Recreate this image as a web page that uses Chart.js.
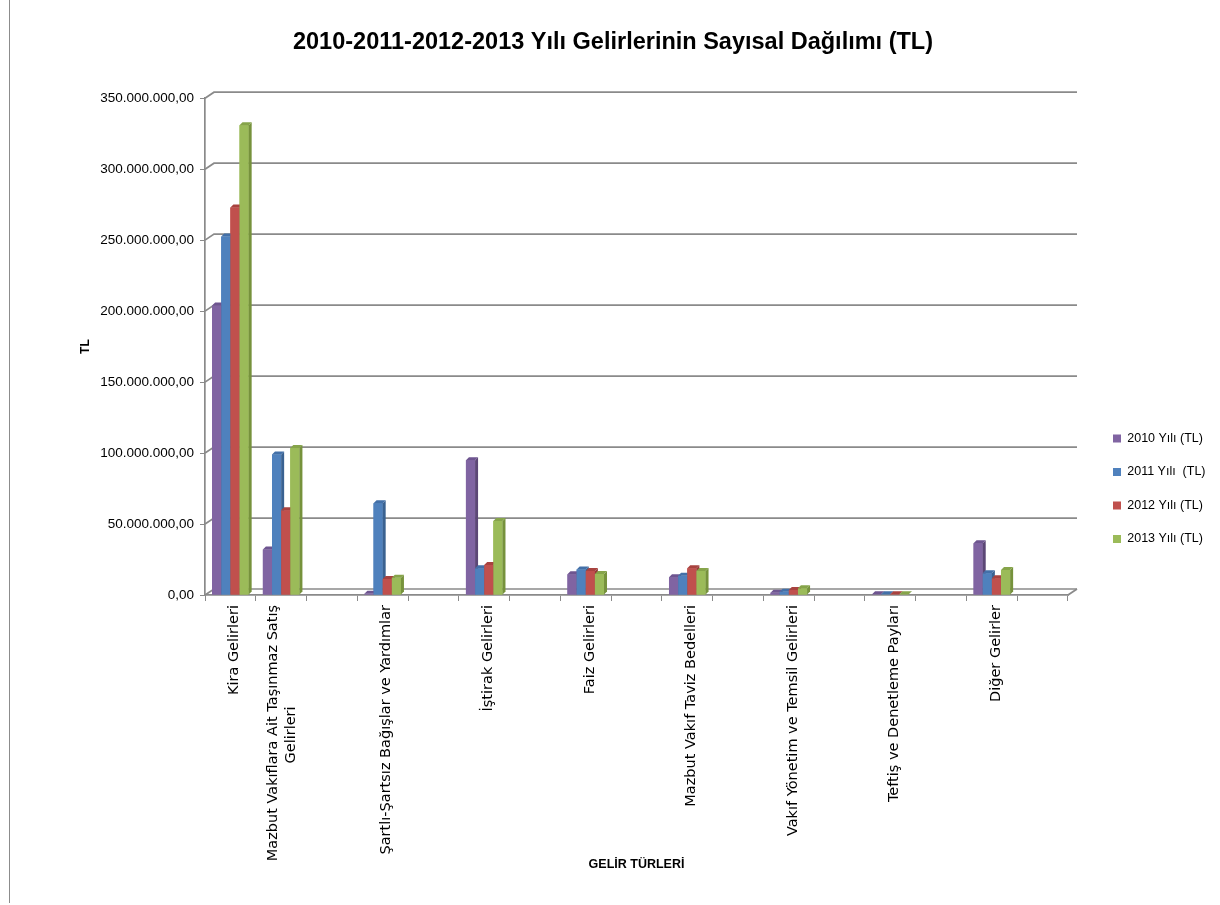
<!DOCTYPE html>
<html><head><meta charset="utf-8">
<script src="https://cdn.jsdelivr.net/npm/chart.js@4.4.0/dist/chart.umd.min.js"></script>
<style>
html,body{margin:0;padding:0;background:#fff;}
#wrap{position:relative;width:1220px;height:905px;overflow:hidden;}
#frame{position:absolute;left:9px;top:0;width:0;height:903px;border-left:1px solid #8c8c8c;}
canvas{position:absolute;left:0;top:0;}
</style></head><body>
<div id="wrap"><canvas id="c" width="1220" height="905"></canvas><div id="frame"></div></div>
<script>
// ---- data ----
const categories = ["Kira Gelirleri","Mazbut Vakıflara Ait Taşınmaz Satış Gelirleri","","Şartlı-Şartsız Bağışlar ve Yardımlar","","İştirak Gelirleri","","Faiz Gelirleri","","Mazbut Vakıf Taviz Bedelleri","","Vakıf Yönetim ve Temsil Gelirleri","","Teftiş ve Denetleme Payları","","Diğer Gelirler",""];
const seriesNames = ["2010 Yılı (TL)","2011 Yılı  (TL)","2012 Yılı (TL)","2013 Yılı (TL)"];
const values2010 = [204000000, 32000000, null, 800000, null, 95000000, null, 14600000, null, 12500000, null, 1600000, null, 500000, null, 36500000, null];
const values2011 = [252500000, 99000000, null, 64700000, null, 18800000, null, 18000000, null, 13600000, null, 2300000, null, 500000, null, 15300000, null];
const values2012 = [273000000, 59700000, null, 11300000, null, 21200000, null, 16900000, null, 18800000, null, 3500000, null, 600000, null, 11800000, null];
const values2013 = [331000000, 103500000, null, 12200000, null, 52200000, null, 14800000, null, 16900000, null, 4700000, null, 600000, null, 17600000, null];
const yTicks = [0, 50000000, 100000000, 150000000, 200000000, 250000000, 300000000, 350000000];
const titleText = "2010-2011-2012-2013 Yılı Gelirlerinin Sayısal Dağılımı (TL)";
const xTitle = "GELİR TÜRLERİ";
const yTitle = "TL";

// ---- styles ----
const frontColors = ["#8064A2","#4F81BD","#C0504D","#9BBB59"];
const sideColors  = ["#5C4776","#3A6291","#953B38","#76923C"];
const topColors   = ["#6E5590","#4370A8","#A8423F","#86A44A"];
const SANS = '"Liberation Sans",Arial,sans-serif';
const GRID = "#8a8a8a";
const DEPTH_X = 9, DEPTH_Y = 6, BAR_D = 3;
const LEGEND_SHIFT = 24;
const LABEL_OFFSET = 4;

function fmtTR(v){
  const n = Math.round(v);
  const s = String(n).replace(/\B(?=(\d{3})+(?!\d))/g, ".");
  return s + ",00";
}
const measureCtx = document.createElement('canvas').getContext('2d');
const X_FONT = {family:'"DejaVu Sans",sans-serif', size:14.5, lineHeight: 1.2};
function wrapLabel(txt){
  if (txt.length <= 36) return txt;
  const cut = txt.lastIndexOf(' ', 36);
  const l1 = txt.slice(0, cut), l2 = txt.slice(cut+1);
  measureCtx.font = X_FONT.size + 'px ' + X_FONT.family;
  const w1 = measureCtx.measureText(l1).width, w2 = measureCtx.measureText(l2).width;
  const sp = measureCtx.measureText(' ').width;
  const n = Math.max(0, Math.round((w1 - w2) / 2 / sp));
  return [l1, l2 + ' '.repeat(n)];
}

const threeD = {
  id: 'threeD',
  afterLayout(chart){
    if (chart.legend){ chart.legend.left += LEGEND_SHIFT; chart.legend.right += LEGEND_SHIFT; }
  },
  beforeDraw(chart){
    // centre multi-line rotated category labels on their tick
    const items = chart.scales.x.getLabelItems();
    if (items._centred) return;
    items.forEach(it => {
      if (Array.isArray(it.label) && it.label.length > 1){
        const lh = it.font.lineHeight;
        it.options.translation[0] -= (it.label.length - 1) * lh / 2 + LABEL_OFFSET - 1;
      }
    });
    items._centred = true;
  },
  beforeDatasetsDraw(chart){
    const {ctx, chartArea:a, scales:{y}} = chart;
    ctx.save();
    ctx.strokeStyle = GRID; ctx.lineWidth = 1.7;
    yTicks.forEach(v => {
      const py = y.getPixelForValue(v);
      ctx.beginPath();
      ctx.moveTo(a.left, py);
      ctx.lineTo(a.left + DEPTH_X, py - DEPTH_Y);
      ctx.lineTo(a.right + DEPTH_X, py - DEPTH_Y);
      ctx.stroke();
    });
    ctx.beginPath();
    ctx.moveTo(a.right, a.bottom);
    ctx.lineTo(a.right + DEPTH_X, a.bottom - DEPTH_Y);
    ctx.stroke();
    ctx.restore();
  },
  afterDatasetsDraw(chart){
    const ctx = chart.ctx;
    const n = chart.data.labels.length;
    ctx.save();
    for (let i = 0; i < n; i++){
      chart.data.datasets.forEach((ds, di) => {
        const el = chart.getDatasetMeta(di).data[i];
        if (!el || ds.data[i] == null) return;
        const {x, y, base, width} = el.getProps(['x','y','base','width'], true);
        const l = x - width/2, r = x + width/2;
        ctx.fillStyle = frontColors[di];
        ctx.fillRect(l, y, width, base - y);
        ctx.fillStyle = sideColors[di];
        ctx.beginPath();
        ctx.moveTo(r, y); ctx.lineTo(r + BAR_D, y - BAR_D);
        ctx.lineTo(r + BAR_D, base - BAR_D); ctx.lineTo(r, base); ctx.closePath(); ctx.fill();
        ctx.fillStyle = topColors[di];
        ctx.beginPath();
        ctx.moveTo(l, y); ctx.lineTo(l + BAR_D, y - BAR_D);
        ctx.lineTo(r + BAR_D, y - BAR_D); ctx.lineTo(r, y); ctx.closePath(); ctx.fill();
      });
    }
    ctx.restore();
  }
};

const seriesValues = [values2010, values2011, values2012, values2013];
new Chart(document.getElementById('c'), {
  type: 'bar',
  data: {
    labels: categories,
    datasets: seriesNames.map((name, i) => ({
      label: name, data: seriesValues[i],
      backgroundColor: frontColors[i], borderWidth: 0,
      categoryPercentage: 0.72, barPercentage: 1.0
    }))
  },
  plugins: [threeD],
  options: {
    responsive: false, animation: false, devicePixelRatio: 1,
    layout: {padding: {left: 6, right: 0, top: 0, bottom: 0}},
    plugins: {
      title: {display: true, text: titleText, color: '#000',
        font: {family: SANS, size: 23.5, weight: 'bold'}, padding: {top: 28, bottom: 42}},
      legend: {position: 'right',
        title: {display: true, text: ' ', font: {size: 12}, padding: {top: 0, bottom: 58}},
        labels: {boxWidth: 8, boxHeight: 8, color: '#000', padding: 21,
          font: {family: SANS, size: 12.5}}},
      tooltip: {enabled: false}
    },
    scales: {
      x: {
        grid: {offset: true, drawOnChartArea: false, drawTicks: true, tickLength: 6, color: GRID, lineWidth: 1},
        border: {display: true, color: GRID, width: 1.7},
        ticks: {autoSkip: false, maxRotation: 90, minRotation: 90, padding: 4, labelOffset: LABEL_OFFSET, color: '#000', font: X_FONT,
          callback: function(v, idx){ return wrapLabel(categories[idx]); }},
        title: {display: true, text: xTitle, color: '#000', font: {family: SANS, size: 12.5, weight: 'bold'}, padding: {top: -20, bottom: 33}},
        afterFit(s){ s.height = 310; s.paddingRight = 152; }
      },
      y: {
        min: 0, max: 350000000,
        afterBuildTicks(s){ s.ticks = yTicks.map(v => ({value: v})); },
        ticks: {color: '#000', padding: 6, font: {family: SANS, size: 13.5}, callback: v => fmtTR(v)},
        grid: {drawOnChartArea: false, drawTicks: true, tickLength: 5, color: GRID},
        border: {display: true, color: GRID, width: 1.7},
        title: {display: true, text: yTitle, color: '#000', font: {family: SANS, size: 12, weight: 'bold'}, padding: {top: 72, bottom: 0}},
        afterFit(s){ s.width = 199; }
      }
    }
  }
});
</script>
</body></html>
